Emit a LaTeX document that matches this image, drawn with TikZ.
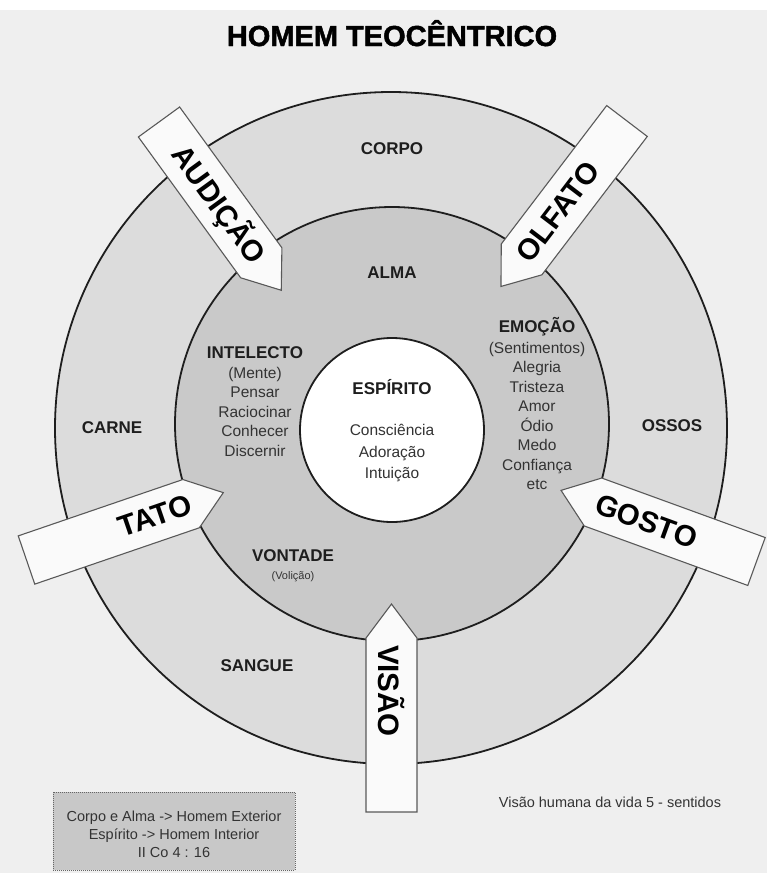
\documentclass[tikz,border=0pt]{standalone}
\usepackage{fontspec}
\setmainfont{Liberation Sans}
\newfontfamily\titlefont[FakeBold=1.6]{Liberation Sans}
\definecolor{bg}{HTML}{EFEFEF}
\definecolor{ringout}{HTML}{DCDCDC}
\definecolor{ringin}{HTML}{C9C9C9}
\definecolor{arrowfill}{HTML}{FAFAFA}
\definecolor{boxfill}{HTML}{C8C8C8}
\definecolor{ink}{HTML}{1E1E1E}
\definecolor{soft}{HTML}{333333}
\tikzset{
  ringline/.style={draw=ink, line width=1.8pt},
  arrowbox/.style={draw=black!65, line width=1.1pt, fill=arrowfill, line join=miter},
  arrowtext/.style={font=\fontsize{29.5}{30}\selectfont\bfseries, text=black, inner sep=0pt},
  label/.style={font=\fontsize{17}{20}\selectfont\bfseries, text=ink, inner sep=0pt, anchor=base},
  item/.style={font=\fontsize{15.5}{19}\selectfont, text=soft, inner sep=0pt, anchor=base},
  small/.style={font=\fontsize{14.5}{18}\selectfont, text=soft, inner sep=0pt, anchor=base},
}
\newcommand\sensearrow[7]{%
  \begin{scope}[shift={(#2,#3)},rotate=#4]
    \draw[arrowbox] (0,-25.5) -- (174,-25.5) -- (208,0) -- (174,25.5) -- (0,25.5) -- cycle;
    \node[arrowtext,rotate=#6] (#1) at (#5,0) {#7};
  \end{scope}}
\begin{document}
\begin{tikzpicture}[x=1pt,y=-1pt]
\useasboundingbox (0,0) rectangle (767,873);
\fill[bg] (0,10) rectangle (767,873);
\fill[white] (0,0) rectangle (767,10);
% title
\node[font=\titlefont\fontsize{29}{32}\selectfont\bfseries, text=black, inner sep=0pt, anchor=base] (title) at (392,46) {HOMEM TEOCÊNTRICO};
% circles
\draw[ringline, fill=ringout] (391,428) circle[radius=336];
\draw[ringline, fill=ringin] (392,424) circle[radius=217];
\draw[ringline, fill=white] (392,430) circle[radius=92];
% arrows
\sensearrow{audicao}{159}{122}{-54}{102}{-54}{AUDIÇÃO}
\sensearrow{olfato}{627}{121}{-127.3}{114}{52.7}{OLFATO}
\sensearrow{tato}{26.5}{560}{18.9}{136}{18.9}{TATO}
\sensearrow{gosto}{756.5}{561.5}{160}{117}{-20}{GOSTO}
\sensearrow{visao}{391.5}{812}{90}{121}{-90}{VISÃO}
% ring labels
\node[label] (corpo) at (392,154) {CORPO};
\node[label] (carne) at (112,433) {CARNE};
\node[label] (ossos) at (672,431) {OSSOS};
\node[label] (sangue) at (257,671) {SANGUE};
\node[label] (alma) at (392,278) {ALMA};
% intelecto
\node[label] (intelecto) at (255,358) {INTELECTO};
\foreach \t [count=\i] in {(Mente),Pensar,Raciocinar,Conhecer,Discernir}
  \node[item] (int\i) at (255,{378+19.5*(\i-1)}) {\t};
% emocao
\node[label] (emocao) at (537,332) {EMOÇÃO};
\foreach \t [count=\i] in {(Sentimentos),Alegria,Tristeza,Amor,Ódio,Medo,Confiança,etc}
  \node[item] (emo\i) at (537,{353+19.5*(\i-1)}) {\t};
% espirito
\node[label] (espirito) at (392,394) {ESPÍRITO};
\node[item] (esp1) at (392,435.5) {Consciência};
\node[item] (esp2) at (392,457) {Adoração};
\node[item] (esp3) at (392,478.5) {Intuição};
% vontade
\node[label] (vontade) at (293,561) {VONTADE};
\node[font=\fontsize{11}{13}\selectfont, text=soft, inner sep=0pt, anchor=base] (volicao) at (293,579) {(Volição)};
% bottom box
\draw[fill=boxfill, draw=black!60, line width=1pt, densely dotted] (53,792) rectangle (295,870);
\node[small] (b1) at (174,821) {Corpo e Alma -> Homem Exterior};
\node[small] (b2) at (174,839) {Espírito -> Homem Interior};
\node[small] (b3) at (174,857) {II Co 4 : 16};
\node[small] (note) at (610,807) {Visão humana da vida 5 - sentidos};
\end{tikzpicture}
\end{document}
